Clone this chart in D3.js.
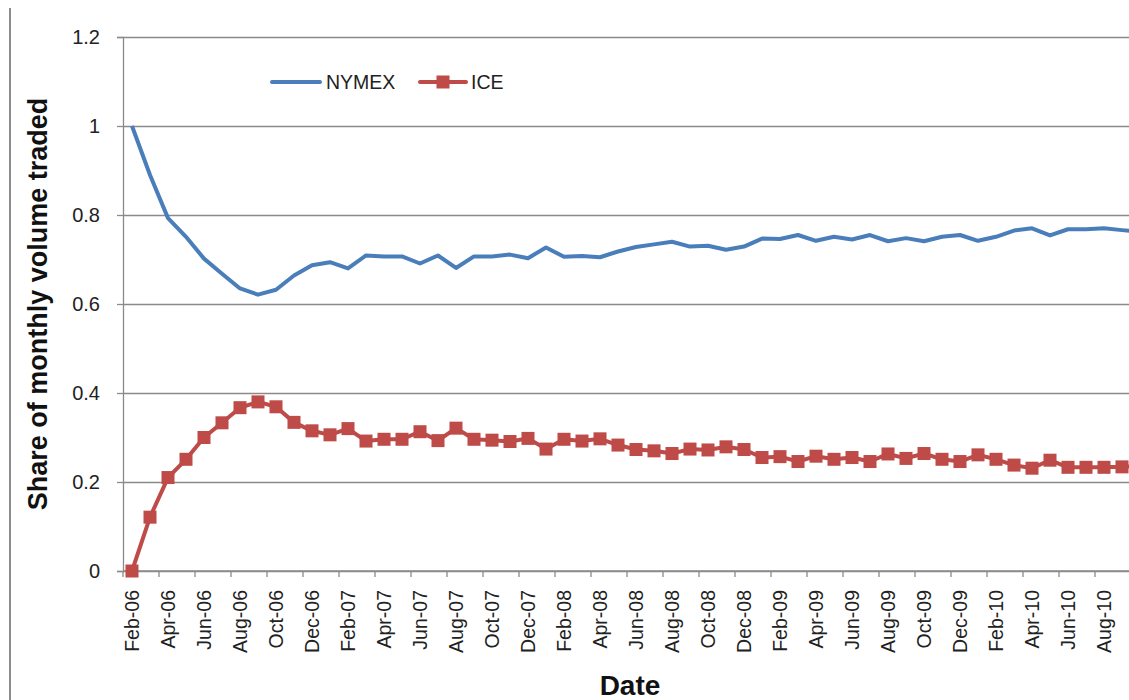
<!DOCTYPE html>
<html>
<head>
<meta charset="utf-8">
<title>NYMEX vs ICE share of monthly volume</title>
<script src="https://d3js.org/d3.v7.min.js"></script>
<style>
  body { margin: 0; background: #fff; }
  svg { display: block; font-family: "Liberation Sans", Arial, sans-serif; }
</style>
</head>
<body>
<script>
// months shown on the category axis (Feb-06 .. Oct-10, last one is clipped by the frame)
var months = ["Feb-06","Mar-06","Apr-06","May-06","Jun-06","Jul-06","Aug-06","Sep-06","Oct-06","Nov-06","Dec-06","Jan-07",
  "Feb-07","Mar-07","Apr-07","May-07","Jun-07","Jul-07","Aug-07","Sep-07","Oct-07","Nov-07","Dec-07","Jan-08",
  "Feb-08","Mar-08","Apr-08","May-08","Jun-08","Jul-08","Aug-08","Sep-08","Oct-08","Nov-08","Dec-08","Jan-09",
  "Feb-09","Mar-09","Apr-09","May-09","Jun-09","Jul-09","Aug-09","Sep-09","Oct-09","Nov-09","Dec-09","Jan-10",
  "Feb-10","Mar-10","Apr-10","May-10","Jun-10","Jul-10","Aug-10","Sep-10","Oct-10"];

var nymex = [1.000,0.890,0.793,0.751,0.702,0.668,0.635,0.621,0.632,0.664,0.687,0.694,
  0.680,0.709,0.707,0.707,0.691,0.709,0.681,0.707,0.707,0.711,0.703,0.727,
  0.706,0.708,0.705,0.718,0.728,0.734,0.740,0.729,0.731,0.722,0.729,0.747,
  0.746,0.755,0.742,0.751,0.745,0.755,0.741,0.748,0.741,0.751,0.755,0.742,
  0.751,0.765,0.770,0.754,0.768,0.768,0.770,0.766,0.762];

var ice = [0.000,0.121,0.210,0.251,0.300,0.333,0.367,0.380,0.369,0.334,0.315,0.306,
  0.320,0.292,0.296,0.296,0.313,0.293,0.321,0.296,0.294,0.291,0.298,0.274,
  0.296,0.292,0.297,0.283,0.273,0.270,0.264,0.274,0.272,0.279,0.273,0.255,
  0.257,0.246,0.258,0.251,0.255,0.246,0.263,0.253,0.264,0.251,0.246,0.261,
  0.251,0.238,0.231,0.249,0.233,0.233,0.233,0.234,0.236];

var yTicks = [0, 0.2, 0.4, 0.6, 0.8, 1, 1.2];

var W = 1129, H = 700;
var plotLeft = 123, plotTop = 37, plotBottom = 571;
var band = 18;

var svg = d3.select("body").append("svg")
  .attr("width", W)
  .attr("height", H);

// outer frame line on the left
svg.append("line")
  .attr("x1", 10).attr("x2", 10).attr("y1", 8).attr("y2", H)
  .attr("stroke", "#8c8c8c").attr("stroke-width", 2);

var x = d3.scaleBand()
  .domain(months)
  .range([plotLeft, plotLeft + band * months.length])
  .padding(0);

var y = d3.scaleLinear()
  .domain([0, 1.2])
  .range([plotBottom, plotTop]);

// horizontal gridlines
svg.append("g")
  .attr("transform", "translate(" + plotLeft + ",0)")
  .call(d3.axisLeft(y).tickValues(yTicks).tickSize(-(W - plotLeft)).tickFormat(""))
  .call(function(g) {
    g.select(".domain").remove();
    g.selectAll("line").attr("stroke", "#8a8a8a").attr("stroke-width", 1.3);
  });

// y axis
svg.append("g")
  .attr("transform", "translate(" + plotLeft + ",0)")
  .call(d3.axisLeft(y).tickValues(yTicks).tickSize(6).tickPadding(17)
    .tickFormat(function(d) { return d3.format("~g")(d); }))
  .call(function(g) {
    g.select(".domain").attr("stroke", "#8a8a8a").attr("stroke-width", 1.3);
    g.selectAll("line").attr("stroke", "#8a8a8a").attr("stroke-width", 1.3);
    g.selectAll("text").attr("font-size", 20).attr("fill", "#222");
  });

// x axis line
svg.append("line")
  .attr("x1", plotLeft).attr("x2", W).attr("y1", plotBottom).attr("y2", plotBottom)
  .attr("stroke", "#8a8a8a").attr("stroke-width", 1.3);

// tick marks between every second category
var tickMonths = months.filter(function(d, i) { return i % 2 == 0; });
svg.append("g").selectAll("line")
  .data(tickMonths)
  .enter().append("line")
  .attr("x1", function(d) { return x(d); })
  .attr("x2", function(d) { return x(d); })
  .attr("y1", plotBottom).attr("y2", plotBottom + 6)
  .attr("stroke", "#8a8a8a").attr("stroke-width", 1.3);

// category labels, rotated (only the ones that fall inside the frame)
var labelMonths = tickMonths.filter(function(d) { return x(d) + x.bandwidth() < W; });
svg.append("g").selectAll("text")
  .data(labelMonths)
  .enter().append("text")
  .attr("transform", function(d) {
    return "translate(" + (x(d) + x.bandwidth() / 2) + "," + (plotBottom + 19) + ") rotate(-90)";
  })
  .attr("text-anchor", "end")
  .attr("dy", "0.35em")
  .attr("font-size", 19.5)
  .attr("fill", "#222")
  .text(function(d) { return d; });

// lines
var line = d3.line()
  .x(function(d, i) { return x(months[i]) + x.bandwidth() / 2; })
  .y(function(d) { return y(d); });

svg.append("path")
  .datum(nymex)
  .attr("d", line)
  .attr("fill", "none")
  .attr("stroke", "#4a7ebb")
  .attr("stroke-width", 4)
  .attr("stroke-linejoin", "round");

svg.append("path")
  .datum(ice)
  .attr("d", line)
  .attr("fill", "none")
  .attr("stroke", "#be4b48")
  .attr("stroke-width", 4)
  .attr("stroke-linejoin", "round");

// ICE square markers
var ms = 13;
svg.append("g").selectAll("rect")
  .data(ice)
  .enter().append("rect")
  .attr("x", function(d, i) { return x(months[i]) + x.bandwidth() / 2 - ms / 2; })
  .attr("y", function(d) { return y(d) - ms / 2; })
  .attr("width", ms).attr("height", ms)
  .attr("fill", "#be4b48");

// legend
var legend = svg.append("g");
legend.append("line")
  .attr("x1", 272).attr("x2", 320).attr("y1", 82).attr("y2", 82)
  .attr("stroke", "#4a7ebb").attr("stroke-width", 4).attr("stroke-linecap", "round");
legend.append("text")
  .attr("x", 326).attr("y", 82).attr("dy", "0.35em")
  .attr("font-size", 19.5).attr("fill", "#222")
  .text("NYMEX");
legend.append("line")
  .attr("x1", 420).attr("x2", 466).attr("y1", 82).attr("y2", 82)
  .attr("stroke", "#be4b48").attr("stroke-width", 4).attr("stroke-linecap", "round");
legend.append("rect")
  .attr("x", 443 - ms / 2).attr("y", 82 - ms / 2)
  .attr("width", ms).attr("height", ms)
  .attr("fill", "#be4b48");
legend.append("text")
  .attr("x", 471).attr("y", 82).attr("dy", "0.35em")
  .attr("font-size", 19.5).attr("fill", "#222")
  .text("ICE");

// axis titles
svg.append("text")
  .attr("transform", "translate(38," + ((plotTop + plotBottom) / 2) + ") rotate(-90)")
  .attr("text-anchor", "middle")
  .attr("dy", "0.35em")
  .attr("font-size", 27)
  .attr("font-weight", "bold")
  .attr("fill", "#111")
  .text("Share of monthly volume traded");

svg.append("text")
  .attr("x", 630).attr("y", 685)
  .attr("text-anchor", "middle")
  .attr("dy", "0.35em")
  .attr("font-size", 28)
  .attr("font-weight", "bold")
  .attr("fill", "#111")
  .text("Date");
</script>
</body>
</html>
